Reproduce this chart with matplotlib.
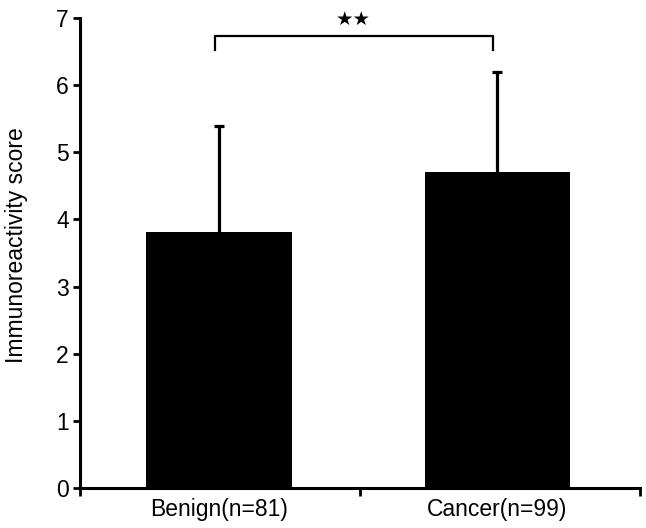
import matplotlib
matplotlib.use("Agg")
import matplotlib.pyplot as plt

categories = ["Benign(n=81)", "Cancer(n=99)"]
means = [3.81, 4.71]
upper = [5.39, 6.20]          # mean + SD (upper error only)
yticks = [0, 1, 2, 3, 4, 5, 6, 7]

plt.rcParams['font.family'] = ['Liberation Sans', 'DejaVu Sans']

fig = plt.figure(figsize=(6.46, 5.28), dpi=100)
ax = fig.add_axes([0.124, 0.0758, 0.867, 0.89])

pos = [0.495, 1.49]
ax.bar(pos, means, width=0.52, color='black', zorder=3)
ax.vlines(pos, means, upper, color='black', lw=2.3, zorder=2)
ax.hlines(upper, [p - 0.018 for p in pos], [p + 0.018 for p in pos],
          color='black', lw=2.3, zorder=2)

# significance bracket
y_br, y_end = 6.73, 6.53
ax.plot([0.482, 0.482, 1.475, 1.475], [y_end, y_br, y_br, y_end],
        color='black', lw=1.6, clip_on=False)
ax.text(0.975, 6.98, "★★", ha='center', va='center', fontsize=14,
        family=['DejaVu Sans'])

ax.set_xlim(0, 2)
ax.set_ylim(0, 7)
ax.set_xticks([0, 1, 2])
ax.set_xticklabels([])
ax.set_xticks(pos, minor=True)
ax.set_xticklabels(categories, minor=True, fontsize=16.5)
ax.tick_params(axis='x', which='minor', length=0, pad=7)
ax.tick_params(axis='x', which='major', length=6, width=2, direction='out')
ax.set_yticks(yticks)
ax.set_yticklabels([str(t) for t in yticks], fontsize=16.5)
ax.tick_params(axis='y', length=5, width=2, direction='out', pad=3)
ax.set_ylabel("Immunoreactivity score", fontsize=16.5)
ax.yaxis.set_label_coords(-0.093, 0.517)

for s in ['top', 'right']:
    ax.spines[s].set_visible(False)
for s in ['left', 'bottom']:
    ax.spines[s].set_linewidth(2.2)

fig.savefig("out.png", dpi=100)
